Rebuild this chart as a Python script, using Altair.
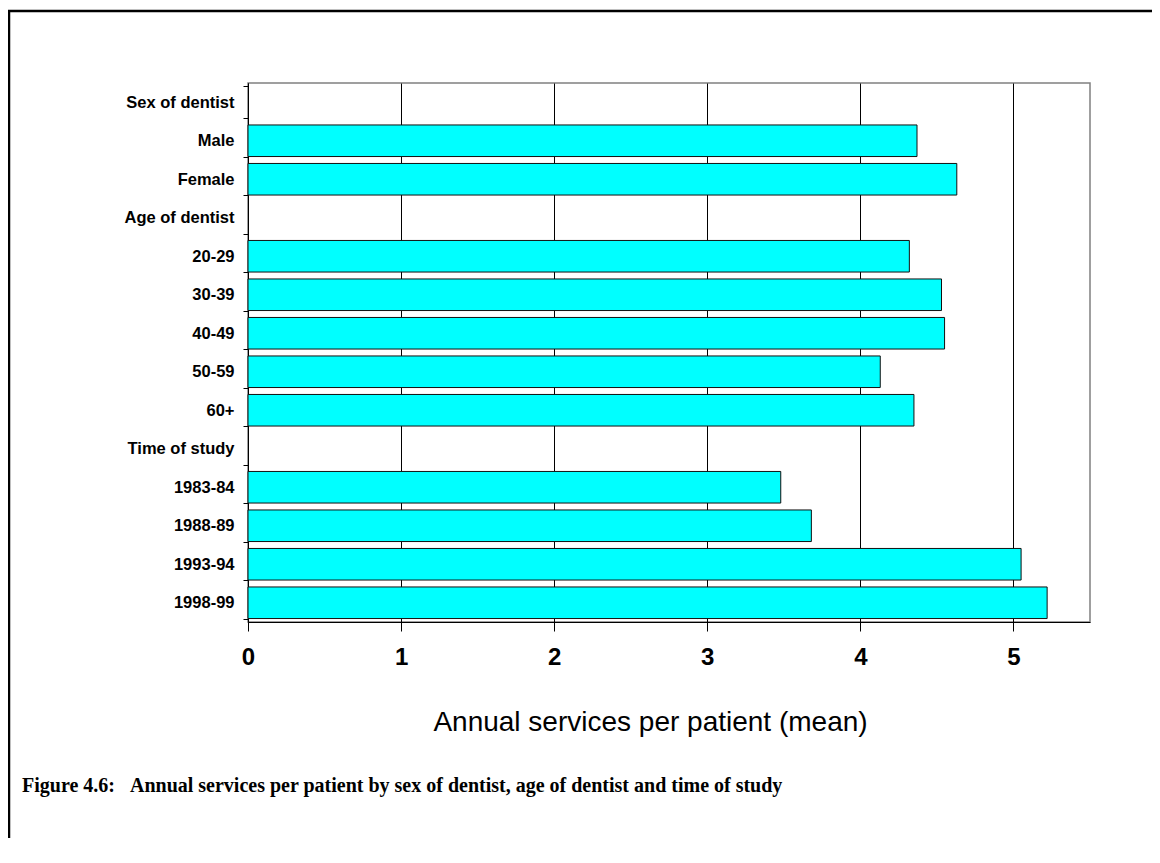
import altair as alt
import pandas as pd

categories = ["Sex of dentist", "Male", "Female", "Age of dentist", "20-29", "30-39",
              "40-49", "50-59", "60+", "Time of study", "1983-84", "1988-89",
              "1993-94", "1998-99"]
values = [None, 4.37, 4.63, None, 4.32, 4.53, 4.55, 4.13, 4.35, None, 3.48, 3.68, 5.05, 5.22]
x_ticks = [0, 1, 2, 3, 4, 5]
caption = "Figure 4.6:\u00a0\u00a0\u00a0Annual services per patient by sex of dentist, age of dentist and time of study"

df = pd.DataFrame({"category": categories, "value": values})

W, H = 842, 539

bars = alt.Chart(df).mark_bar(
    color="#00FFFF", stroke="#111111", strokeWidth=1
).encode(
    y=alt.Y("category:N", sort=categories,
            scale=alt.Scale(paddingInner=0.18, paddingOuter=0.09),
            axis=alt.Axis(title=None, tickBand="extent", tickSize=5, tickColor="black",
                          domainColor="black", labelFont="Liberation Sans",
                          labelFontWeight="bold", labelFontSize=16.5, labelColor="black",
                          labelPadding=9, grid=False)),
    x=alt.X("value:Q", scale=alt.Scale(domain=[0, 5.5], nice=False),
            axis=alt.Axis(values=x_ticks, format="d", title="Annual services per patient (mean)",
                          grid=True, gridColor="black", gridWidth=1, tickSize=9,
                          tickColor="black", domainColor="black", labelFlush=False,
                          labelFont="Liberation Sans", labelFontWeight="bold",
                          labelFontSize=24, labelColor="black", labelPadding=14,
                          titleFont="Liberation Sans", titleFontWeight="normal",
                          titleFontSize=28, titleColor="black",
                          titleX=402, titleY=108, titleAlign="center",
                          titleBaseline="alphabetic", titleAnchor="middle")),
)

frame_df = pd.DataFrame({"a": [0]})
left_border = alt.Chart(frame_df).mark_rule(color="black", strokeWidth=2.5).encode(
    x=alt.value(-239), y=alt.value(-72), y2=alt.value(790))
top_border = alt.Chart(frame_df).mark_rule(color="black", strokeWidth=2.5).encode(
    x=alt.value(-240), x2=alt.value(1000), y=alt.value(-72))
caption_text = alt.Chart(pd.DataFrame({"t": [caption]})).mark_text(
    align="left", baseline="alphabetic", font="Liberation Serif", fontWeight="bold",
    fontSize=20, color="black"
).encode(text="t:N", x=alt.value(-226), y=alt.value(709))

chart = alt.layer(bars, left_border, top_border, caption_text).properties(
    width=W, height=H,
    autosize=alt.AutoSizeParams(type="none"),
    padding={"left": 240, "top": 75, "right": 62, "bottom": 216},
).configure_view(stroke="#808080", strokeWidth=1.5)

chart.save("out.html", embed_options={"renderer": "svg", "actions": False})
